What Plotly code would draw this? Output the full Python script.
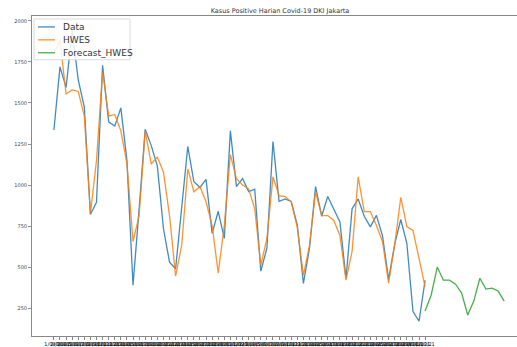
import plotly.graph_objects as go
import pandas as pd

# ---- data ----
dates = pd.date_range("2021-08-01", periods=62, freq="D")
date_labels = [f"{d.day}/{d.month:02d}/{d.year % 100}" for d in dates]

data_vals = [1335, 1720, 1595, 1940, 1640, 1475, 820, 895, 1730, 1385,
             1360, 1470, 1150, 390, 850, 1340, 1240, 1115, 735, 530,
             490, 880, 1235, 1020, 985, 1035, 705, 840, 675, 1330,
             990, 1040, 960, 975, 475, 615, 1265, 900, 915, 900,
             755, 400, 615, 990, 810, 930, 855, 775, 430, 855,
             915, 810, 745, 815, 690, 425, 640, 790, 645, 230,
             170, 420]

hwes_vals = [1800, 1880, 1555, 1580, 1570, 1420, 826, 1150, 1690, 1420,
             1430, 1330, 1130, 656, 814, 1330, 1128, 1170, 1080, 814,
             445, 632, 1098, 959, 990, 898, 753, 463, 753, 1185,
             1038, 1000, 977, 856, 511, 675, 1050, 935, 930, 898,
             740, 450, 632, 959, 814, 814, 784, 693, 420, 596,
             1050, 838, 838, 753, 656, 402, 635, 925, 747, 723,
             553, 380]

forecast_vals = [232, 330, 500, 420, 420, 396, 342, 208, 293, 432, 366, 372, 354, 293]

series_names = ["Data", "HWES", "Forecast_HWES"]
colors = ["#1f77b4", "#ff7f0e", "#2ca02c"]

x_data = list(range(len(data_vals)))
x_fc = list(range(len(data_vals) - 1, len(data_vals) - 1 + len(forecast_vals)))

W, H = 517, 347
L, T, B = 32, 16, 9
plot_w = W - L
plot_h = H - T - B

fig = go.Figure()
for xs, ys, name, col in [(x_data, data_vals, series_names[0], colors[0]),
                          (x_data, hwes_vals, series_names[1], colors[1]),
                          (x_fc, forecast_vals, series_names[2], colors[2])]:
    fig.add_trace(go.Scatter(x=xs, y=ys, mode="lines", name=name, opacity=0.85,
                             line=dict(color=col, width=1.3)))


def px_x(px):
    return (px - L) / plot_w


def px_y(py):
    return (H - B - py) / plot_h


shapes = [dict(type="rect", xref="paper", yref="paper",
               x0=px_x(34), x1=px_x(130), y0=px_y(60), y1=px_y(19),
               fillcolor="rgba(255,255,255,0.85)", line=dict(color="#dcdcdc", width=1),
               layer="above")]
annotations = []
for name, col, py in zip(series_names, colors, [27, 40, 53]):
    shapes.append(dict(type="line", xref="paper", yref="paper",
                       x0=px_x(38), x1=px_x(55), y0=px_y(py), y1=px_y(py),
                       line=dict(color=col, width=1.3), opacity=0.85, layer="above"))
    annotations.append(dict(text=name, xref="paper", yref="paper",
                            x=px_x(61), y=px_y(py), xanchor="left", yanchor="middle",
                            showarrow=False, font=dict(size=9, color="#333",
                                                       family="DejaVu Sans")))

fig.update_layout(
    width=W, height=H,
    margin=dict(l=L, r=0, t=T, b=B, pad=0),
    paper_bgcolor="white", plot_bgcolor="white",
    showlegend=False,
    font=dict(family="DejaVu Sans", color="#444"),
    title=dict(text="Kasus Positive Harian Covid-19 DKI Jakarta",
               x=(280 - L) / plot_w, xref="paper", xanchor="center",
               y=1 - 11 / H, yref="container", yanchor="middle",
               font=dict(size=6.5, color="#333", family="DejaVu Sans")),
    shapes=shapes,
    annotations=annotations,
)

fig.update_xaxes(range=[-3.6, 76.1], tickmode="array", tickvals=x_data,
                 ticktext=date_labels, tickangle=0,
                 tickfont=dict(size=5, color="#111"),
                 ticks="outside", ticklen=3, tickcolor="#666", tickwidth=0.8,
                 showgrid=False, zeroline=False,
                 showline=True, linecolor="#888", linewidth=1, mirror=True)
fig.update_yaxes(range=[80, 2030], tickmode="array",
                 tickvals=[250, 500, 750, 1000, 1250, 1500, 1750, 2000],
                 tickfont=dict(size=5, color="#444"),
                 ticks="outside", ticklen=3, tickcolor="#777", tickwidth=0.8,
                 showgrid=False, zeroline=False,
                 showline=True, linecolor="#888", linewidth=1, mirror=False)

fig.write_html("out.html",
               config={"displayModeBar": False, "staticPlot": True},
               post_script="document.body.style.margin='0';document.body.style.overflow='hidden';")
